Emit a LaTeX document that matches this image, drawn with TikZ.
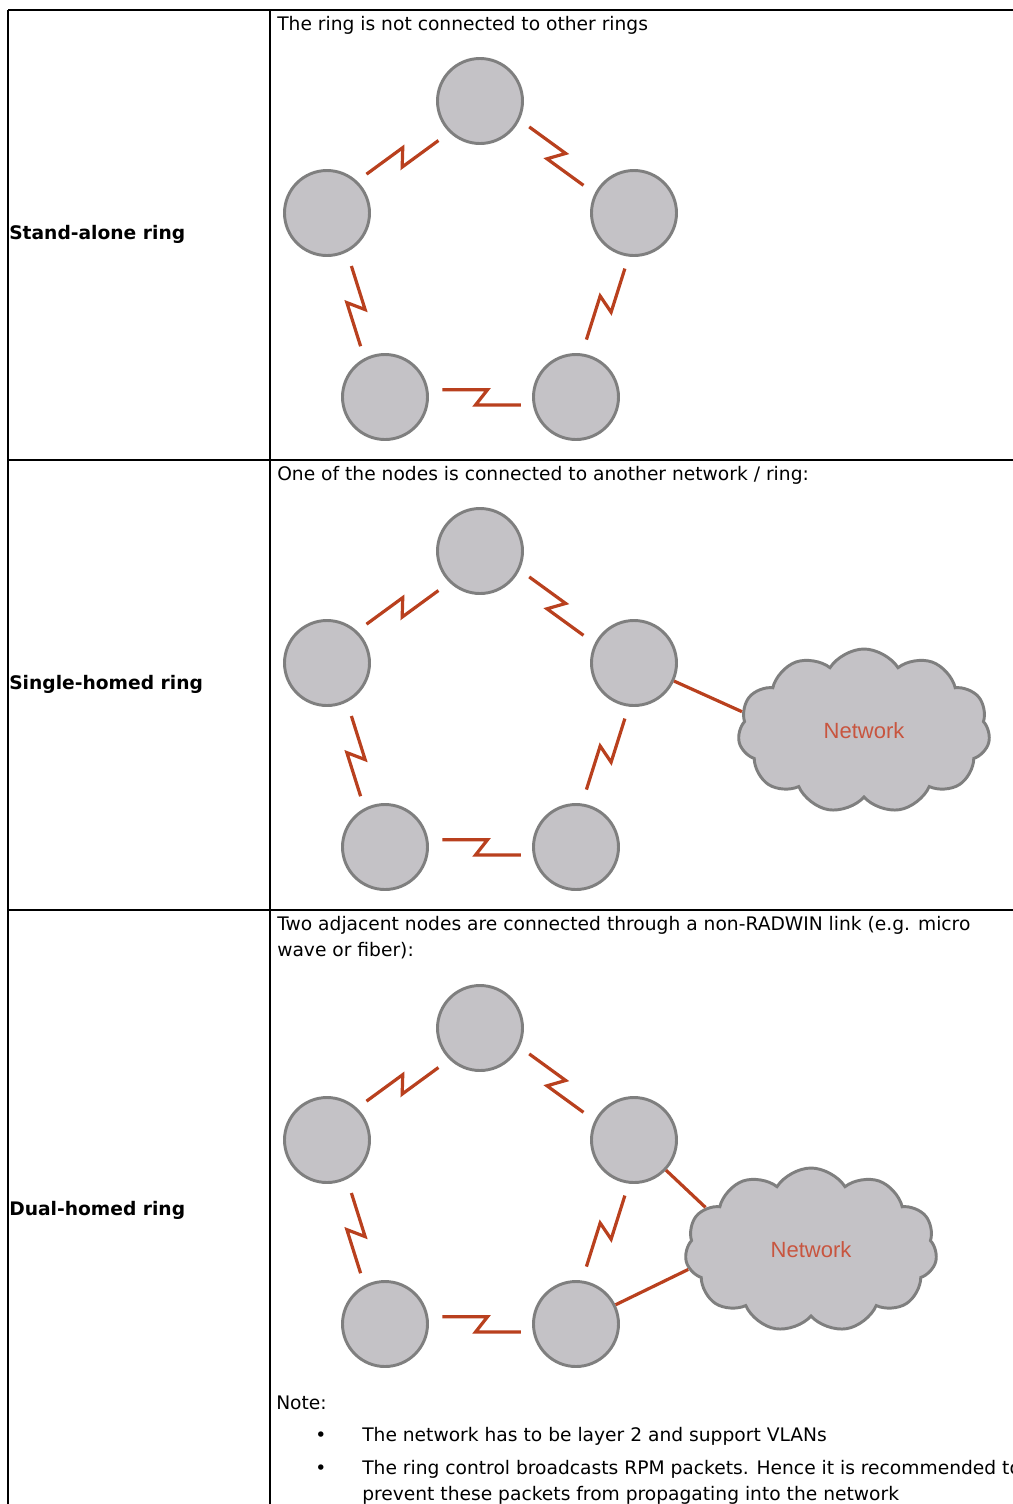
\documentclass[tikz,border=0pt]{standalone}
\usepackage{fontspec}
\setmainfont{DejaVu Sans}
\newfontfamily\cloudfont{Liberation Sans}
\usetikzlibrary{calc,shapes.symbols}

\definecolor{nodegray}{HTML}{C4C2C6}
\definecolor{rimgray}{HTML}{7F7F7F}
\definecolor{linkred}{HTML}{B9401E}
\definecolor{nettext}{HTML}{C8553F}

\tikzset{
  ringnode/.style={circle, fill=nodegray, draw=rimgray, line width=2.2pt, minimum size=63.75pt, inner sep=0pt},
  link/.style={draw=linkred, line width=2.4pt},
  wire/.style={draw=linkred, line width=2.4pt},
  zig/.style={to path={
      ($(\tikztostart)!0.289!(\tikztotarget)!6pt!90:(\tikztotarget)$) --
      ($(\tikztostart)!0.526!(\tikztotarget)!6pt!90:(\tikztotarget)$) --
      ($(\tikztostart)!0.463!(\tikztotarget)!5.5pt!-90:(\tikztotarget)$) --
      ($(\tikztostart)!0.700!(\tikztotarget)!5.5pt!-90:(\tikztotarget)$)}},
  netcloud/.style={cloud, cloud puffs=11, cloud puff arc=115, cloud ignores aspect,
    fill=nodegray, draw=rimgray, line width=2.2pt, minimum width=189pt, minimum height=123pt,
    font=\cloudfont\fontsize{16.5}{18}\selectfont, text=nettext},
  txt/.style={anchor=base west, inner sep=0pt, font=\fontsize{14}{17}\selectfont},
  rowlabel/.style={txt, font=\fontsize{14}{17}\selectfont\bfseries},
  rule/.style={line width=1.5pt}
}

% one ring of five nodes, #1 = name prefix, #2 = vertical offset
\newcommand{\drawring}[2]{%
  \node[ringnode] (#1-top) at (480,101+#2) {};
  \node[ringnode] (#1-left) at (327,213+#2) {};
  \node[ringnode] (#1-right) at (634,213+#2) {};
  \node[ringnode] (#1-bl) at (385,397+#2) {};
  \node[ringnode] (#1-br) at (576,397+#2) {};
  \draw[link] (#1-left) to[zig] (#1-top);
  \draw[link] (#1-top) to[zig] (#1-right);
  \draw[link] (#1-right) to[zig] (#1-br);
  \draw[link] (#1-br) to[zig] (#1-bl);
  \draw[link] (#1-bl) to[zig] (#1-left);
}

\begin{document}
\begin{tikzpicture}[x=0.75pt, y=-0.75pt]
\useasboundingbox (0,0) rectangle (1013,1504);
\fill[white] (0,0) rectangle (1013,1504);

% table
\draw[rule] (8,10) -- (1030,10);
\draw[rule] (8,460) -- (1030,460);
\draw[rule] (8,910) -- (1030,910);
\draw[rule] (8,10) -- (8,1520);
\draw[rule] (270,10) -- (270,1520);

% row labels
\node[rowlabel] (lab1) at (9,239) {Stand-alone ring};
\node[rowlabel] (lab2) at (9,689) {Single-homed ring};
\node[rowlabel] (lab3) at (9,1215) {Dual-homed ring};

% row 1
\node[txt] (cap1) at (277,30) {The ring is not connected to other rings};
\drawring{sa}{0}

% row 2
\node[txt] (cap2) at (277,480) {One of the nodes is connected to another network / ring:};
\drawring{sh}{450}
\node[netcloud] (sh-net) at (864,731) {Network};
\draw[wire] (sh-right) -- (sh-net.171);

% row 3
\node[txt] (cap3) at (277,930) {Two adjacent nodes are connected through a non-RADWIN link (e.g. micro};
\node[txt] (cap3b) at (277,956) {wave or fiber):};
\drawring{dh}{927}
\node[netcloud] (dh-net) at (811,1250) {Network};
\draw[wire] (dh-right) -- (dh-net.158);
\draw[wire] (dh-br) -- (dh-net.189);

% note
\node[txt] (note) at (276,1409) {Note:};
\node[txt] (dot1) at (315,1441) {•};
\node[txt] (item1) at (362,1441) {The network has to be layer 2 and support VLANs};
\node[txt] (dot2) at (315,1474) {•};
\node[txt] (item2) at (362,1474) {The ring control broadcasts RPM packets. Hence it is recommended to};
\node[txt] (item2b) at (362,1500) {prevent these packets from propagating into the network};
\end{tikzpicture}
\end{document}
